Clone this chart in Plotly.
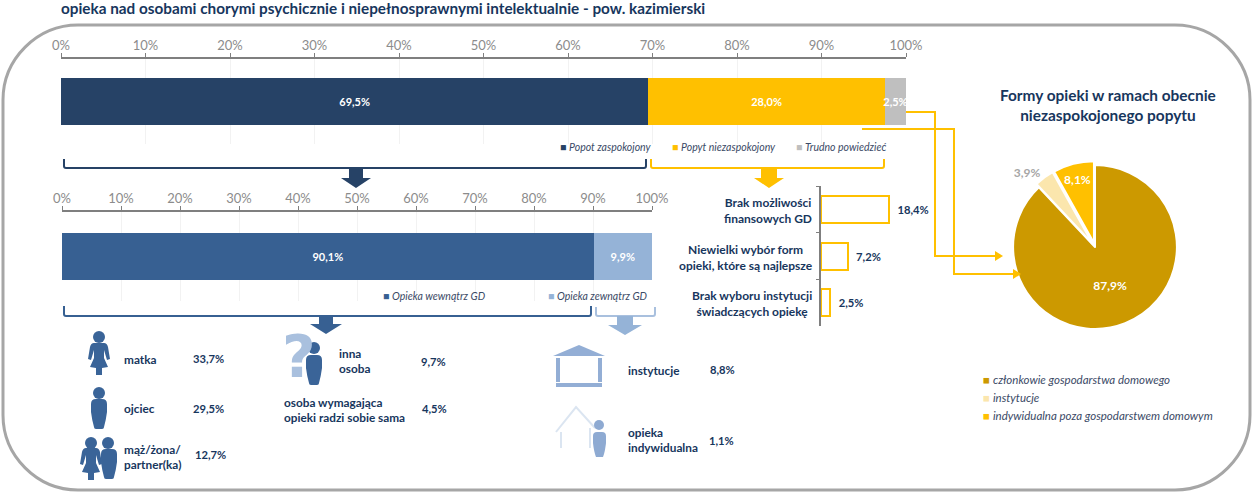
import plotly.graph_objects as go

W, H = 1259, 498

navy = '#264266'
blue = '#376092'
light_blue = '#95b3d7'
yellow = '#ffc000'
grey = '#bfbfbf'
text_navy = '#17365d'
icon_blue = '#3a6498'
font = 'Lato'

title = 'opieka nad osobami chorymi psychicznie i niepełnosprawnymi intelektualnie - pow. kazimierski'

demand_names = ['Popot zaspokojony', 'Popyt niezaspokojony', 'Trudno powiedzieć']
demand_values = [69.5, 28.0, 2.5]
demand_colors = [navy, yellow, grey]

care_names = ['Opieka wewnątrz GD', 'Opieka zewnątrz GD']
care_values = [90.1, 9.9]
care_colors = [blue, light_blue]

reason_names = ['Brak możliwości<br>finansowych GD',
                'Niewielki wybór form<br>opieki, które są najlepsze',
                'Brak wyboru instytucji<br>świadczących opiekę']
reason_values = [18.4, 7.2, 2.5]

pie_names = ['członkowie gospodarstwa domowego', 'instytucje', 'indywidualna poza gospodarstwem domowym']
pie_values = [87.9, 3.9, 8.1]
pie_colors = ['#cc9900', '#fbe6ad', yellow]

who_names = ['matka', 'ojciec', 'mąż/żona/<br>partner(ka)', 'inna<br>osoba',
             'osoba wymagająca<br>opieki radzi sobie sama', 'instytucje', 'opieka<br>indywidualna']
who_values = ['33,7%', '29,5%', '12,7%', '9,7%', '4,5%', '8,8%', '1,1%']


def px(x):
    return x / W


def py(y):
    return 1 - y / H


# path written in pixels, converted to paper coordinates
def pth(s, dx=0, dy=0):
    out = []
    toks = s.split()
    i = 0
    while i < len(toks):
        if toks[i].isalpha():
            out.append(toks[i])
            i += 1
        else:
            out.append(f'{px(float(toks[i]) + dx):.5f},{py(float(toks[i + 1]) + dy):.5f}')
            i += 2
    return ' '.join(out)


shapes = []


def line(s, color, width=2, dx=0, dy=0):
    shapes.append(dict(type='path', xref='paper', yref='paper', path=pth(s, dx, dy),
                       line=dict(color=color, width=width)))


def solid(s, color, dx=0, dy=0):
    shapes.append(dict(type='path', xref='paper', yref='paper', path=pth(s, dx, dy),
                       fillcolor=color, line=dict(width=0)))


def dot(cx, cy, r, color):
    shapes.append(dict(type='circle', xref='paper', yref='paper', x0=px(cx - r), x1=px(cx + r),
                       y0=py(cy + r), y1=py(cy - r), fillcolor=color, line=dict(width=0)))


def bracket(x0, x1, y0, y1, color, width=2):
    line(f'M {x0} {y0} L {x0} {y1 - 2} Q {x0} {y1} {x0 + 2} {y1} L {x1 - 2} {y1} Q {x1} {y1} {x1} {y1 - 2} L {x1} {y0}',
         color, width)


def arrow(cx, top, neck, tip, shaft, head, color):
    solid(f'M {cx - shaft} {top} L {cx + shaft} {top} L {cx + shaft} {neck} L {cx + head} {neck} '
          f'L {cx} {tip} L {cx - head} {neck} L {cx - shaft} {neck} Z', color)


woman = ('M 94 343 L 104 343 Q 107 343 108 347 L 110 359 L 107 360 L 104 350 L 104 358 L 108 367 L 102 368 '
         'L 102 375 L 96 375 L 96 368 L 90 367 L 94 358 L 94 350 L 91 360 L 88 359 L 90 347 Q 91 343 94 343 Z')
man = ('M 91 404 Q 91 399 96 399 L 102 399 Q 107 399 107 404 L 107 412 Q 106 420 104 427 Q 104 429 102 429 '
       'L 96 429 Q 94 429 94 427 Q 92 420 91 412 Z')

# frame
line('M 78 25 L 1175 25 C 1216 25 1250 59 1250 100 L 1250 415 C 1250 456 1216 490 1175 490 '
     'L 78 490 C 37 490 3 456 3 415 L 3 100 C 3 59 37 25 78 25 Z', '#a6a6a6', 3)

bracket(64, 646, 159, 168, navy)
bracket(651, 884, 159, 168, yellow)
bracket(64, 591, 306, 316, blue)
bracket(596, 655, 307, 316, '#a9c0de')
arrow(356, 168, 178, 188, 7, 15, navy)
arrow(769, 168, 178, 188, 8, 15, yellow)
arrow(326, 316, 324, 334, 7, 16, blue)
arrow(625, 316, 325, 335, 8, 17, light_blue)

# connectors to the pie
line('M 906 112 L 935 112 L 935 256 L 996 256', yellow)
solid('M 995 251 L 1003 256 L 995 261 Z', yellow)
line('M 862 129 L 954 129 L 954 274 L 1014 274', yellow)
solid('M 1013 269 L 1021 274 L 1013 279 Z', yellow)

# people
dot(99, 337, 6, icon_blue)
solid(woman, icon_blue)
dot(99, 393, 6, icon_blue)
solid(man, icon_blue)
dot(91, 443, 6, icon_blue)
solid(woman, icon_blue, dx=-8, dy=105)
dot(108, 443, 6, icon_blue)
solid(man, icon_blue, dx=10, dy=50)
dot(314, 348, 6, icon_blue)
solid(man, icon_blue, dx=215, dy=-44)

# institution
solid('M 553 356 L 579 345 L 605 356 Z', '#93aed5')
solid('M 556 358 L 560 358 L 560 382 L 556 382 Z', '#93aed5')
solid('M 598 358 L 602 358 L 602 382 L 598 382 Z', '#93aed5')
solid('M 556 383 L 602 383 L 602 387 L 556 387 Z', '#93aed5')

# house with person
line('M 556 432 L 576 407 L 595 428', '#dbe5f1', 2)
line('M 561 432 L 561 448', '#dbe5f1', 2)
line('M 590 428 L 590 448', '#dbe5f1', 2)
dot(599, 425, 5, '#8eaad2')
solid('M 593 436 Q 593 432 597 432 L 602 432 Q 606 432 606 436 L 606 443 Q 605 452 603 457 L 596 457 Q 594 452 593 443 Z',
      '#8eaad2')

annotations = []


def note(x, y, text, size=12, color=text_navy, anchor='left', align='left', bold=False, family=font):
    if bold:
        text = '<b>' + text + '</b>'
    annotations.append(dict(xref='paper', yref='paper', x=px(x), y=py(y), text=text, showarrow=False,
                            xanchor=anchor, yanchor='middle', align=align,
                            font=dict(family=family, size=size, color=color)))


def legend_item(x, y, name, color, size=10.5):
    note(x, y, f'<span style="color:{color}">■</span> <i>{name}</i>', size=size, color='#3b4a66')


legend_item(558, 147, demand_names[0], demand_colors[0])
legend_item(670, 147, demand_names[1], demand_colors[1])
legend_item(794, 147, demand_names[2], demand_colors[2])
legend_item(381, 296, care_names[0], care_colors[0])
legend_item(546, 296, care_names[1], care_colors[1])

legend_y = [379, 397, 415]
for name, color, y in zip(pie_names, pie_colors, legend_y):
    legend_item(981, y, name, color, size=11.5)

reason_x = [768, 746, 752]
reason_y = [210, 257, 303]
for name, x, y in zip(reason_names, reason_x, reason_y):
    note(x, y, name, size=12, anchor='center', align='center', bold=True)

who_x = [122, 122, 122, 337, 282, 626, 626]
who_y = [359, 408, 457, 361, 410, 370, 440]
value_x = [191, 191, 193, 419, 420, 708, 707]
value_y = [358, 408, 454, 361, 408, 369, 440]
for name, val, x, y, vx, vy in zip(who_names, who_values, who_x, who_y, value_x, value_y):
    note(x, y, name, size=11.8, bold=True)
    note(vx, vy, val, size=11.2, bold=True)

note(1108, 105, 'Formy opieki w ramach obecnie<br>niezaspokojonego popytu', size=15.4, anchor='center',
     align='center', bold=True)
note(299, 357, '?', size=58, color='#a9c0de', anchor='center', bold=True, family='DejaVu Sans')

fig = go.Figure()

for name, val, color in zip(demand_names, demand_values, demand_colors):
    fig.add_trace(go.Bar(x=[val], y=['a'], name=name, orientation='h', marker=dict(color=color, line_width=0),
                         xaxis='x', yaxis='y', texttemplate='<b>%{x:.1f}%</b>', textposition='inside',
                         insidetextanchor='middle', textangle=0, constraintext='none',
                         insidetextfont=dict(family=font, size=11, color='white'), cliponaxis=False))

for name, val, color in zip(care_names, care_values, care_colors):
    fig.add_trace(go.Bar(x=[val], y=['b'], name=name, orientation='h', marker=dict(color=color, line_width=0),
                         xaxis='x2', yaxis='y2', texttemplate='<b>%{x:.1f}%</b>', textposition='inside',
                         insidetextanchor='middle', textangle=0, constraintext='none',
                         insidetextfont=dict(family=font, size=11, color='white')))

fig.add_trace(go.Bar(x=reason_values, y=reason_names, orientation='h', xaxis='x3', yaxis='y3',
                     marker=dict(color='white', line=dict(color=yellow, width=2)),
                     texttemplate='<b>  %{x:.1f}%</b>', textposition='outside', cliponaxis=False,
                     outsidetextfont=dict(family=font, size=11.2, color=text_navy)))

fig.add_trace(go.Pie(values=pie_values, labels=pie_names, sort=False, direction='clockwise', rotation=0,
                     marker=dict(colors=pie_colors, line=dict(color='white', width=2)),
                     pull=[0, 0.05, 0.05], texttemplate='<b>%{value:.1f}%</b>',
                     textposition=['inside', 'outside', 'inside'], insidetextorientation='horizontal',
                     textfont=dict(family=font, size=12, color=['white', '#a6a6a6', 'white']),
                     domain=dict(x=[px(1095 - 86), px(1095 + 86)], y=[py(247 + 86), py(247 - 86)])))

pct_axis = dict(range=[0, 100], side='top', tick0=0, dtick=10, ticksuffix='%', ticks='outside', ticklen=4,
                ticklabelstandoff=-2, tickcolor='#7f7f7f', tickfont=dict(family=font, size=13, color='#8c8c8c'),
                showline=True, linecolor='#7f7f7f', linewidth=2, gridcolor='#f2f2f2', zeroline=False,
                automargin=False)

fig.update_layout(
    width=W, height=H, autosize=False,
    margin=dict(l=0, r=0, t=0, b=0),
    paper_bgcolor='white', plot_bgcolor='white',
    barmode='stack', showlegend=False, separators=', ',
    title=dict(text='<b>' + title + '</b>', x=px(61), xanchor='left', y=py(9), yanchor='middle',
               font=dict(family=font, size=15.3, color=text_navy)),
    xaxis=dict(pct_axis, domain=[px(61), px(906)], anchor='y'),
    yaxis=dict(domain=[py(144), py(59)], anchor='x', visible=False, automargin=False),
    xaxis2=dict(pct_axis, domain=[px(62), px(652)], anchor='y2'),
    yaxis2=dict(domain=[py(301), py(212)], anchor='x2', visible=False, automargin=False),
    xaxis3=dict(domain=[px(821), px(821 + 111)], range=[0, 30], anchor='y3', visible=False, automargin=False),
    yaxis3=dict(domain=[py(326), py(186)], anchor='x3', autorange='reversed', showticklabels=False,
                ticks='outside', ticklen=3, tickson='boundaries', tickcolor='#7f7f7f',
                showline=True, linecolor='#7f7f7f', linewidth=2, showgrid=False, automargin=False),
    shapes=shapes,
    annotations=annotations,
)
# each bar panel has its own height, so set the gaps through the bar widths
fig.update_traces(width=47 / 85, selector=dict(yaxis='y'))
fig.update_traces(width=47 / 89, selector=dict(yaxis='y2'))
fig.update_traces(width=27 / 46.67, selector=dict(yaxis='y3'))

fig.write_html('out.html', config={'displayModeBar': False}, post_script="document.body.style.margin='0';")
